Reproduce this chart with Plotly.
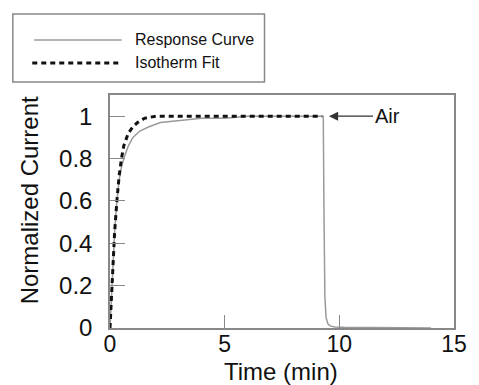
import plotly.graph_objects as go

# Data
resp_t = [0, 0.1, 0.2, 0.3, 0.4, 0.5, 0.6, 0.8, 1.0, 1.3, 1.7, 2.2, 3.0, 4.0, 5, 6, 7, 8, 9, 9.3,
          9.33, 9.37, 9.42, 9.5, 9.6, 9.8, 10.2, 11, 12, 14]
resp_v = [0, 0.25, 0.45, 0.6, 0.7, 0.76, 0.8, 0.86, 0.9, 0.93, 0.95, 0.97, 0.98, 0.99, 0.99, 1.0,
          1.0, 1.0, 1.0, 1.0, 0.55, 0.15, 0.05, 0.02, 0.01, 0.005, 0.003, 0.002, 0.002, 0.0]

fit_t = [0, 0.1, 0.2, 0.3, 0.4, 0.5, 0.6, 0.8, 1.0, 1.2, 1.5, 2.0, 3, 5, 7, 9.25]
fit_v = [0, 0.25, 0.45, 0.6, 0.72, 0.8, 0.86, 0.92, 0.95, 0.97, 0.99, 1.0, 1.0, 1.0, 1.0, 1.0]

x_ticks = [0, 5, 10, 15]
y_ticks = [0, 0.2, 0.4, 0.6, 0.8, 1]
y_tick_labels = ["0", "0.2", "0.4", "0.6", "0.8", "1"]
legend_names = ["Response Curve", "Isotherm Fit"]
x_title = "Time (min)"
y_title = "Normalized Current"

FONT = "Liberation Sans, Arial, sans-serif"
W, H = 479, 385
L, R, T, B = 110, 15, 95, 57
pw, ph = W - L - R, H - T - B

def px(x):
    return (x - L) / pw

def py(y):
    return (H - B - y) / ph

fig = go.Figure()
fig.add_trace(go.Scatter(x=resp_t, y=resp_v, mode="lines", name=legend_names[0],
                         line=dict(color="#9a9a9a", width=1.5), showlegend=False))
fig.add_trace(go.Scatter(x=fit_t, y=fit_v, mode="lines", name=legend_names[1],
                         line=dict(color="#111111", width=3, dash="5px,4px"), showlegend=False))

shapes = [
    # legend box
    dict(type="rect", xref="paper", yref="paper", x0=px(10), x1=px(269), y0=py(82), y1=py(14),
         line=dict(color="#888888", width=1.5), fillcolor="rgba(0,0,0,0)"),
    dict(type="line", xref="paper", yref="paper", x0=px(32), x1=px(122), y0=py(40), y1=py(40),
         line=dict(color="#9a9a9a", width=1.5)),
    dict(type="line", xref="paper", yref="paper", x0=px(30), x1=px(121), y0=py(63), y1=py(63),
         line=dict(color="#111111", width=3, dash="5px,4px")),
]

annotations = [
    dict(xref="paper", yref="paper", x=px(134), y=py(40), text=legend_names[0], showarrow=False,
         xanchor="left", yanchor="middle", font=dict(family=FONT, size=16, color="#111")),
    dict(xref="paper", yref="paper", x=px(134), y=py(63), text=legend_names[1], showarrow=False,
         xanchor="left", yanchor="middle", font=dict(family=FONT, size=16, color="#111")),
    dict(x=9.55, y=1.0, xref="x", yref="y", text="Air", showarrow=True, arrowhead=2,
         arrowsize=1.4, arrowwidth=1.3, arrowcolor="#333", ax=44, ay=0, xanchor="left",
         font=dict(family=FONT, size=20, color="#111")),
    dict(xref="paper", yref="paper", x=px(27), y=py(200), text=y_title, textangle=-90,
         showarrow=False, xanchor="center", yanchor="middle",
         font=dict(family=FONT, size=24, color="#111")),
    dict(xref="paper", yref="paper", x=px(286), y=py(371), text=x_title,
         showarrow=False, xanchor="center", yanchor="middle",
         font=dict(family=FONT, size=24, color="#111")),
]

fig.update_layout(
    width=W, height=H,
    margin=dict(l=L, r=R, t=T, b=B, pad=0),
    paper_bgcolor="white", plot_bgcolor="white",
    shapes=shapes, annotations=annotations,
    font=dict(family=FONT, color="#111"),
)
fig.update_xaxes(range=[0, 15], tickvals=x_ticks, ticks="inside", ticklen=13, tickcolor="#888",
                 tickwidth=1.2, showline=True, linecolor="#888", linewidth=1.5, mirror=True,
                 showgrid=False, zeroline=False, ticklabelstandoff=-5,
                 tickfont=dict(family=FONT, size=23, color="#111"))
fig.update_yaxes(range=[0, 1.1], tickvals=y_ticks, ticktext=y_tick_labels, ticks="inside", ticklen=15,
                 tickcolor="#888", tickwidth=1.2, showline=True, linecolor="#888", linewidth=1.5,
                 mirror=True, showgrid=False, zeroline=False, ticklabelstandoff=11,
                 tickfont=dict(family=FONT, size=24, color="#111"))

fig.write_html("out.html")
